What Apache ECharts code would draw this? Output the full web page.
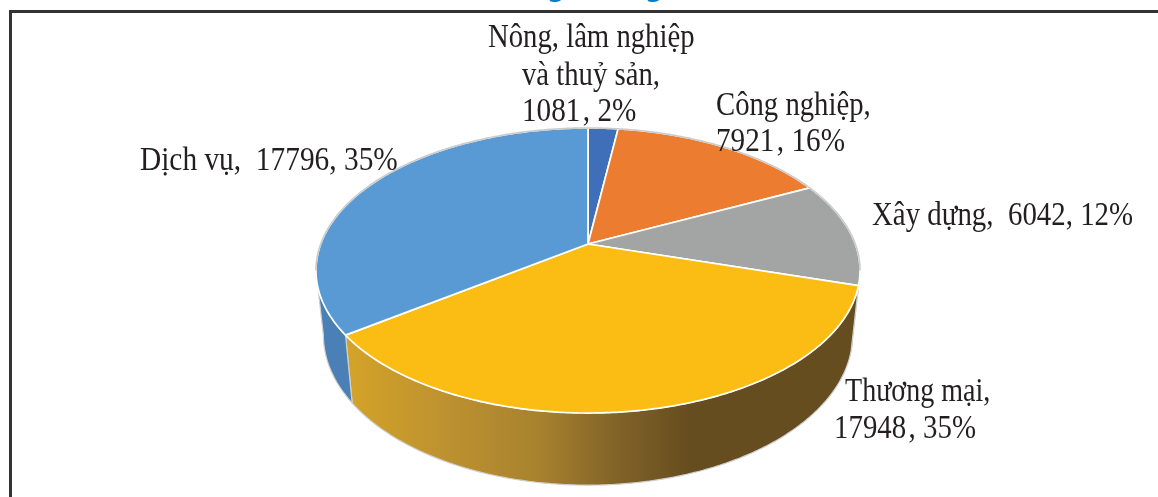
<!DOCTYPE html>
<html><head><meta charset="utf-8">
<style>html,body{margin:0;padding:0;background:#fff}#c{width:1158px;height:497px}</style>
<script src="https://cdn.jsdelivr.net/npm/echarts@6/dist/echarts.min.js"></script>
</head><body><div id="c"></div>
<script>
var categories = ['Nông, lâm nghiệp và thuỷ sản', 'Công nghiệp', 'Xây dựng', 'Thương mại', 'Dịch vụ'];
var values = [1081, 7921, 6042, 17948, 17796];
var labelLines = [
  ['Nông, lâm nghiệp', 'và thuỷ sản,', '1081\u200A, 2%'],
  ['Công nghiệp,', '7921\u200A, 16%'],
  ['Xây dựng,  6042, 12%'],
  ['Thương mại,', '17948\u200A, 35%'],
  ['Dịch vụ,  17796, 35%']
];
var topColors = ['#3f6fb8', '#ec7c30', '#a3a5a4', '#fbbd14', '#5a9ad4'];
var sideColors = ['#36609f', '#b8611f', '#7f8180', '#b8911a', '#4a80b5'];
// layout of each label line: [x, y, scaleX]
var labelLayout = [
  [[488, 38, 0.87], [522, 76, 0.87], [522, 112, 0.885]],
  [[716, 106, 0.87], [716, 142, 0.885]],
  [[872, 216, 0.875]],
  [[845, 392, 0.85], [834, 429, 0.875]],
  [[140, 161, 0.89]]
];

// Perspective projection of the pie disc
var proj = {cx: 588, cy: 244, a: 267.3, b: 137.6, k: -0.186, a2: 260, cy2: 307, b2: 145};
var tangentA = Math.acos(proj.k), tangentB = 2 * Math.PI - tangentA;
function topPt(t) { var u = Math.sin(t), v = -Math.cos(t), d = 1 + proj.k * v;
  return [proj.cx + proj.a * u / d, proj.cy + proj.b * v / d]; }
function botPt(t) { var u = Math.sin(t), v = -Math.cos(t), d = 1 + proj.k * v;
  return [proj.cx + proj.a2 * u / d, proj.cy2 + proj.b2 * v / d]; }
function arc(f, a0, a1) { var n = Math.max(2, Math.ceil(Math.abs(a1 - a0) / 0.01)), r = [];
  for (var i = 0; i <= n; i++) r.push(f(a0 + (a1 - a0) * i / n)); return r; }

var total = values.reduce(function (s, v) { return s + v; }, 0);
var rows = [], acc = 0;
values.forEach(function (v, i) { rows.push([acc / total * 2 * Math.PI, (acc + v) / total * 2 * Math.PI, i]); acc += v; });

var textRows = [];
labelLines.forEach(function (lines, i) { lines.forEach(function (t, j) { textRows.push([i, j]); }); });

var sideFill = function (i) {
  if (i !== 3) return sideColors[i];
  return {type: 'linear', x: 352, y: 0, x2: 690, y2: 0, global: true, colorStops: [
    {offset: 0, color: '#d3a229'}, {offset: 0.3, color: '#bb9030'},
    {offset: 0.55, color: '#a8822e'}, {offset: 0.8, color: '#7f6128'}, {offset: 1, color: '#664d1f'}]};
};

var chart = echarts.init(document.getElementById('c'), null, {renderer: 'canvas'});
chart.setOption({
  animation: false,
  backgroundColor: '#fff',
  graphic: [
    {type: 'rect', shape: {x: 10.5, y: 11.5, width: 1300, height: 600}, z: 0,
     style: {fill: 'none', stroke: '#333', lineWidth: 3}},
    {type: 'text', x: 556, y: 2, z: 0, style: {text: 'g', fill: '#0b7dc4', font: 'bold 26px "Noto Sans"', textAlign: 'center', textVerticalAlign: 'bottom'}},
    {type: 'text', x: 654, y: 2, z: 0, style: {text: 'g', fill: '#0b7dc4', font: 'bold 26px "Noto Sans"', textAlign: 'center', textVerticalAlign: 'bottom'}}
  ],
  series: [
    {type: 'custom', coordinateSystem: 'none', z: 2, data: rows, silent: true,
     renderItem: function (p, api) {
       var a0 = Math.max(api.value(0), tangentA), a1 = Math.min(api.value(1), tangentB), i = api.value(2);
       if (a1 <= a0) return null;
       var pts = arc(topPt, a0, a1).concat(arc(botPt, a0, a1).reverse());
       return {type: 'polygon', shape: {points: pts},
         style: {fill: sideFill(i), stroke: '#cfcfcf', lineWidth: 1.2}};
     }},
    {type: 'custom', coordinateSystem: 'none', z: 3, data: rows, silent: true,
     renderItem: function (p, api) {
       var a0 = api.value(0), a1 = api.value(1), i = api.value(2);
       var pts = [[proj.cx, proj.cy]].concat(arc(topPt, a0, a1));
       return {type: 'polygon', shape: {points: pts},
         style: {fill: topColors[i], stroke: '#fff', lineWidth: 1.7, lineJoin: 'round'}};
     }},
    {type: 'custom', coordinateSystem: 'none', z: 4, data: [[tangentB - 2 * Math.PI, tangentA]], silent: true,
     renderItem: function (p, api) {
       return {type: 'polyline', shape: {points: arc(topPt, api.value(0), api.value(1))},
         style: {fill: 'none', stroke: '#cbcbcb', lineWidth: 1.6}};
     }},
    {type: 'custom', coordinateSystem: 'none', z: 5, data: textRows, silent: true,
     renderItem: function (p, api) {
       var i = api.value(0), j = api.value(1), la = labelLayout[i][j];
       return {type: 'text', x: la[0], y: la[1], scaleX: la[2], scaleY: 1,
         style: {text: labelLines[i][j], fill: '#231f20', font: '33px "Liberation Serif"',
           textAlign: 'left', textVerticalAlign: 'middle'}};
     }}
  ]
});
</script></body></html>
